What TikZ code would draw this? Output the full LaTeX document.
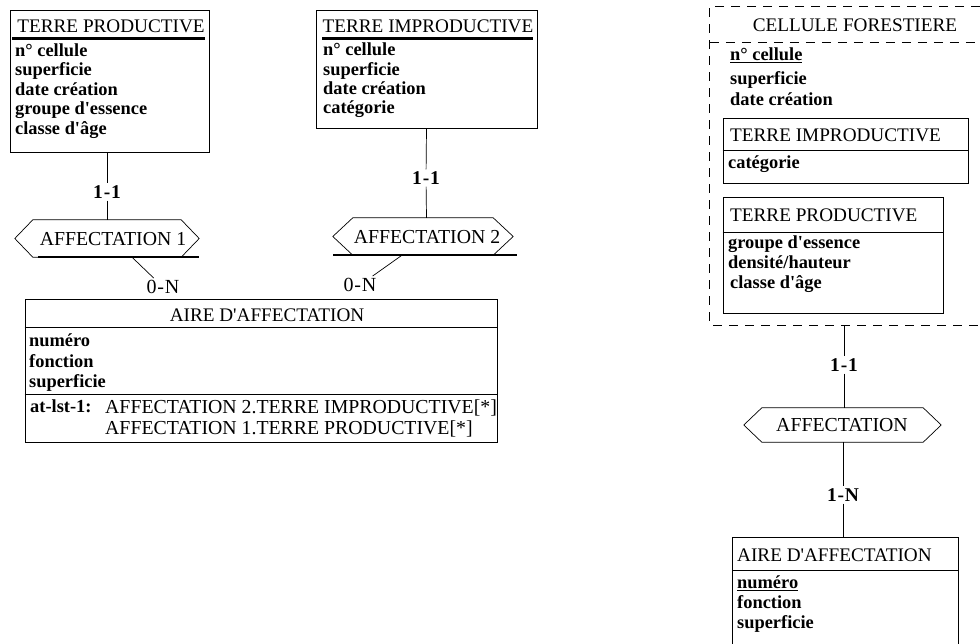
\documentclass[tikz,border=0pt]{standalone}
\usepackage{fontspec}
\setmainfont{Liberation Serif}
\newcommand\aps{\textquotesingle}
\newcommand\cd[2]{#1\kern0.8pt-\kern0.8pt#2}
\tikzset{
  ent/.style={draw, line width=0.7pt, inner sep=0pt},
  frame/.style={inner sep=0pt},
  ln/.style={line width=0.7pt},
  bar/.style={line width=2.2pt},
  dsh/.style={line width=0.7pt, dash pattern=on 9pt off 7pt},
  ttl/.style={font=\fontsize{19.8}{19.8}\selectfont, inner sep=0pt},
  etl/.style={font=\fontsize{19.2}{19.2}\selectfont, inner sep=0pt},
  att/.style={font=\fontsize{18.4}{18.4}\selectfont\bfseries, inner sep=0pt},
  cardb/.style={fill=white, inner sep=2pt, font=\fontsize{19.5}{19.5}\selectfont\bfseries},
  cardr/.style={fill=white, inner sep=2pt, font=\fontsize{20}{20}\selectfont},
}
\newcommand\hexa[2]{\draw[ln] (#1.west) -- ([xshift=#2]#1.north west) -- ([xshift=-#2]#1.north east) -- (#1.east) -- ([xshift=-#2]#1.south east) -- ([xshift=#2]#1.south west) -- cycle;}
\begin{document}
\begin{tikzpicture}[x=1pt,y=-1pt]
\useasboundingbox (0,0) rectangle (980,644);
\fill[white] (0,0) rectangle (980,644);

% ---------- left: TERRE PRODUCTIVE
\node[ent, minimum width=199, minimum height=142] (tp) at (109.5,81) {};
\node[etl, anchor=base] (tpT) at (111,32.5) {TERRE PRODUCTIVE};
\draw[bar] (12,38.5) -- (205,38.5);
\node[att, anchor=base west] (tpA1) at (15,56.5) {n° cellule};
\node[att, anchor=base west] (tpA2) at (15,76) {superficie};
\node[att, anchor=base west] (tpA3) at (15,95.5) {date création};
\node[att, anchor=base west] (tpA4) at (15,115) {groupe d\aps essence};
\node[att, anchor=base west] (tpA5) at (15,134.5) {classe d\aps âge};

% ---------- left: TERRE IMPRODUCTIVE
\node[ent, minimum width=221, minimum height=118] (ti) at (426.5,69) {};
\node[etl, anchor=base] (tiT) at (428,32.5) {TERRE IMPRODUCTIVE};
\draw[bar] (322,38.5) -- (533,38.5);
\node[att, anchor=base west] (tiA1) at (323,55.5) {n° cellule};
\node[att, anchor=base west] (tiA2) at (323,75.5) {superficie};
\node[att, anchor=base west] (tiA3) at (323,94.5) {date création};
\node[att, anchor=base west] (tiA4) at (323,113.5) {catégorie};

% ---------- AFFECTATION 1
\node[frame, minimum width=184, minimum height=37] (h1) at (107,238.5) {};
\hexa{h1}{18}
\node[ttl, anchor=base] (h1T) at (113,245.5) {AFFECTATION 1};
\draw[bar] (38,257) -- (199,257);

% ---------- AFFECTATION 2
\node[frame, minimum width=180, minimum height=37] (h2) at (423,236.5) {};
\hexa{h2}{20}
\node[ttl, anchor=base] (h2T) at (427,243.5) {AFFECTATION 2};
\draw[bar] (333,255) -- (517,255);

% ---------- AIRE D'AFFECTATION (left)
\node[ent, minimum width=472, minimum height=143] (al) at (261,370.5) {};
\node[etl, anchor=base] (alT) at (267,322) {AIRE D\aps AFFECTATION};
\draw[ln] (al.west |- 0,327) -- (al.east |- 0,327);
\node[att, anchor=base west] (alA1) at (29,346.5) {numéro};
\node[att, anchor=base west] (alA2) at (29,367.5) {fonction};
\node[att, anchor=base west] (alA3) at (29,387.5) {superficie};
\draw[ln] (al.west |- 0,394) -- (al.east |- 0,394);
\node[att, anchor=base west] (alC) at (30,412.5) {at-lst-1:};
\node[ttl, anchor=base west] (alC1) at (105,413.5) {AFFECTATION 2.TERRE IMPRODUCTIVE[*]};
\node[ttl, anchor=base west] (alC2) at (105,434.5) {AFFECTATION 1.TERRE PRODUCTIVE[*]};

% ---------- left connectors
\node[cardb] (k1) at (107,192) {\cd11};
\node[cardb] (k2) at (426,178) {\cd11};
\node[cardr] (k3) at (163,287) {\cd0N};
\node[cardr] (k4) at (360,285) {\cd0N};
\draw[ln] (tp.south -| h1.north) -- (k1);
\draw[ln] (k1) -- (h1.north);
\draw[ln] (ti.south) -- (k2);
\draw[ln] (k2) -- (ti.south |- h2.north);
\draw[ln] ([xshift=25]h1.south) -- (k3);
\draw[ln] ([xshift=-21]h2.south) -- (k4);

% ---------- right: CELLULE FORESTIERE (dashed)
\node[frame, minimum width=270, minimum height=318] (cf) at (845,166) {};
\draw[dsh] (cf.north east) -- (cf.north west) -- (cf.south west) -- (cf.south east);
\draw[dsh] (cf.west |- 0,42) -- (cf.east |- 0,42);
\node[etl, anchor=base] (cfT) at (855,31.5) {CELLULE FORESTIERE};
\node[att, anchor=base west] (cfA1) at (730,60.5) {\underline{n° cellule}};
\node[att, anchor=base west] (cfA2) at (730,84.5) {superficie};
\node[att, anchor=base west] (cfA3) at (730,105.5) {date création};

\node[ent, minimum width=245, minimum height=65] (ti2) at (845.5,150.5) {};
\node[etl, anchor=base west] (ti2T) at (730,141.5) {TERRE IMPRODUCTIVE};
\draw[ln] (ti2.west |- 0,150) -- (ti2.east |- 0,150);
\node[att, anchor=base west] (ti2A1) at (728,168.5) {catégorie};

\node[ent, minimum width=220, minimum height=116] (tp2) at (833,255) {};
\node[etl, anchor=base west] (tp2T) at (730,221.5) {TERRE PRODUCTIVE};
\draw[ln] (tp2.west |- 0,232) -- (tp2.east |- 0,232);
\node[att, anchor=base west] (tp2A1) at (728,248.5) {groupe d\aps essence};
\node[att, anchor=base west] (tp2A2) at (728,268.5) {densité/hauteur};
\node[att, anchor=base west] (tp2A3) at (730,288.5) {classe d\aps âge};

% ---------- AFFECTATION (right)
\node[frame, minimum width=197, minimum height=34] (h3) at (842.5,425) {};
\hexa{h3}{18}
\node[ttl, anchor=base] (h3T) at (842,431.5) {AFFECTATION};

% ---------- AIRE D'AFFECTATION (right, open at bottom)
\node[frame, minimum width=225, minimum height=106] (ar) at (845.5,591) {};
\draw[ln] (ar.south west) -- (ar.north west) -- (ar.north east) -- (ar.south east);
\node[etl, anchor=base west] (arT) at (737,561.5) {AIRE D\aps AFFECTATION};
\draw[ln] (ar.west |- 0,570) -- (ar.east |- 0,570);
\node[att, anchor=base west] (arA1) at (737,588.5) {\underline{numéro}};
\node[att, anchor=base west] (arA2) at (737,608.5) {fonction};
\node[att, anchor=base west] (arA3) at (737,628.5) {superficie};

% ---------- right connectors
\node[cardb] (k5) at (844,365) {\cd11};
\node[cardb] (k6) at (843,495) {\cd1N};
\draw[ln] (cf.south -| k5) -- (k5);
\draw[ln] (k5) -- (k5 |- h3.north);
\draw[ln] (h3.south -| k6) -- (k6);
\draw[ln] (k6) -- (k6 |- ar.north);
\end{tikzpicture}
\end{document}
